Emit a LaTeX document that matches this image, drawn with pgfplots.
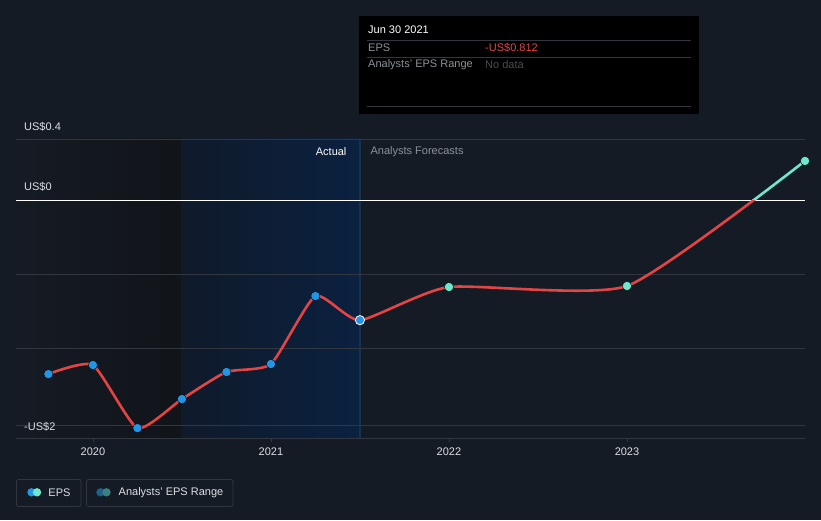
\documentclass[border=0pt]{standalone}
\usepackage{pgfplots}
\pgfplotsset{compat=1.18}
\usepackage{fontspec}
\setmainfont{Liberation Sans}

\definecolor{bg}{RGB}{21,27,36}
\definecolor{gridcol}{RGB}{50,55,63}
\definecolor{darkband}{RGB}{17,20,25}
\definecolor{bandleft}{RGB}{15,26,42}
\definecolor{bandright}{RGB}{11,33,64}
\definecolor{bandedge}{RGB}{24,48,80}
\definecolor{epsred}{RGB}{228,68,68}
\definecolor{epsteal}{RGB}{110,230,208}
\definecolor{epsblue}{RGB}{33,150,230}
\definecolor{labgrey}{RGB}{140,145,153}
\definecolor{txt}{RGB}{220,223,228}
\definecolor{rangeblue}{RGB}{30,95,140}
\definecolor{rangeteal}{RGB}{62,128,128}

\begin{document}
\begin{tikzpicture}[x=1pt,y=1pt,font=\fontsize{11}{13}\selectfont]
\fill[bg] (0,0) rectangle (821,520);
% shaded past periods
\fill[left color=bg, right color=darkband] (16,82) rectangle (181.5,381);
\fill[left color=bandleft, right color=bandright] (181.5,82) rectangle (360,381);
\draw[bandedge, line width=1.2pt] (360,82) -- (360,381);

\begin{axis}[
    at={(16pt,82pt)}, anchor=south west,
    scale only axis, width=789pt, height=299pt,
    xmin=2019.568, xmax=2024.0,
    ymin=-1.608, ymax=0.412,
    axis x line*=bottom, axis y line*=left,
    x axis line style={gridcol, line width=1pt, -},
    y axis line style={draw=none},
    xtick={2020,2021,2022,2023},
    xticklabels={2020,2021,2022,2023},
    xticklabel style={txt, font=\fontsize{11}{13}\selectfont, yshift=-2pt},
    major tick length=4pt, tick align=outside,
    x tick style={gridcol, line width=0.8pt},
    y tick style={draw=none},
    ytick={-1.52,-1,-0.5,0.406},
    yticklabels={},
    ymajorgrids,
    y grid style={gridcol, line width=0.8pt},
]
% zero line
\draw[white, line width=0.9pt] (axis cs:2019.568,0) -- (axis cs:2024,0);

% EPS line, red below zero, teal above
\begin{scope}
\clip (axis cs:2019,-2) rectangle (axis cs:2025,0);
\addplot[epsred, line width=2.6pt, smooth, tension=0.33, no marks] coordinates {
    (2019.75,-1.176) (2020.0,-1.115) (2020.25,-1.541) (2020.5,-1.345)
    (2020.75,-1.162) (2021.0,-1.108) (2021.25,-0.649) (2021.5,-0.812)
    (2022.0,-0.588) (2023.0,-0.581) (2024.0,0.264)
};
\end{scope}
\begin{scope}
\clip (axis cs:2019,0) rectangle (axis cs:2025,1);
\addplot[epsteal, line width=2.6pt, smooth, tension=0.33, no marks] coordinates {
    (2019.75,-1.176) (2020.0,-1.115) (2020.25,-1.541) (2020.5,-1.345)
    (2020.75,-1.162) (2021.0,-1.108) (2021.25,-0.649) (2021.5,-0.812)
    (2022.0,-0.588) (2023.0,-0.581) (2024.0,0.264)
};
\end{scope}

% actual points
\addplot[only marks, mark=*, mark size=4.6pt, mark options={fill=epsblue, draw=none}] coordinates {
    (2019.75,-1.176) (2020.0,-1.115) (2020.25,-1.541) (2020.5,-1.345)
    (2020.75,-1.162) (2021.0,-1.108) (2021.25,-0.649)
};
\addplot[only marks, mark=*, mark size=4.6pt, mark options={fill=epsblue, draw=white, line width=0.8pt}] coordinates {
    (2021.5,-0.812)
};
% forecast points
\addplot[only marks, mark=*, mark size=4.6pt, mark options={fill=epsteal, draw=none}] coordinates {
    (2022.0,-0.588) (2023.0,-0.581) (2024.0,0.264)
};

\node[anchor=east, text=white] at (axis cs:2021.444,0.325) {Actual};
\node[anchor=west, text=labgrey] at (axis cs:2021.54,0.325) {Analysts Forecasts};
\end{axis}

% y labels
\node[anchor=west, text=txt, inner sep=0pt] at (24,393) {US\$0.4};
\node[anchor=west, text=txt, inner sep=0pt] at (24,333) {US\$0};
\node[anchor=west, text=txt, inner sep=0pt] at (24,93) {-US\$2};

% tooltip
\fill[black] (359,504) rectangle (699,406);
\node[anchor=west, text=white, inner sep=0pt] at (368,490) {Jun 30 2021};
\draw[gridcol, line width=0.8pt] (367,480) -- (691,480);
\node[anchor=west, text=labgrey, inner sep=0pt] at (368,472) {EPS};
\node[anchor=west, text=epsred, inner sep=0pt] at (485,472) {-US\$0.812};
\draw[gridcol, line width=0.8pt] (367,463) -- (691,463);
\node[anchor=west, text=labgrey, inner sep=0pt] at (368,455) {Analysts' EPS Range};
\node[anchor=west, text=gray!60!black, inner sep=0pt] at (485,455) {No data};
\draw[gridcol, line width=0.8pt] (367,414) -- (691,414);

% legend
\draw[gridcol, line width=0.8pt, rounded corners=2pt] (16.5,40.5) rectangle (81,13.5);
\fill[epsblue] (31.5,27.7) circle (4.2);
\fill[epsteal] (37,27.7) circle (4.2);
\node[text=txt, inner sep=0pt] at (59.5,27.7) {EPS};
\draw[gridcol, line width=0.8pt, rounded corners=2pt] (86.5,40.5) rectangle (233,13.5);
\fill[rangeblue] (100.5,27.7) circle (4.2);
\fill[rangeteal] (106.5,27.7) circle (4.2);
\node[text=txt, inner sep=0pt] at (171,27.7) {Analysts' EPS Range};
\end{tikzpicture}
\end{document}
